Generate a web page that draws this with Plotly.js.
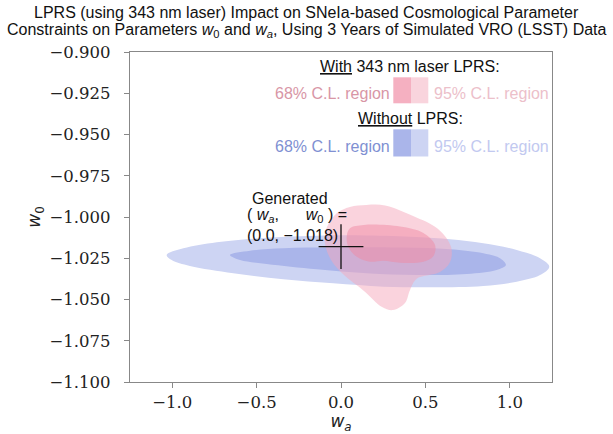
<!DOCTYPE html>
<html><head><meta charset="utf-8">
<script src="https://cdn.plot.ly/plotly-3.0.1.min.js"></script>
<style>html,body{margin:0;padding:0;background:#fff;}</style>
</head><body><div id="chart" style="width:613px;height:434px;"></div>
<script>
// Without LPRS, 95% C.L. contour (w_a, w_0)
const noLprs95_wa = [-1.033, -0.934, -0.736, -0.440, -0.144, 0.152, 0.448, 0.646, 0.843, 1.041, 1.179, 1.234, 1.179, 1.041, 0.843, 0.547, 0.251, -0.046, -0.342, -0.638, -0.895, -1.003];
const noLprs95_w0 = [-1.0230, -1.0190, -1.0153, -1.0125, -1.0113, -1.0112, -1.0121, -1.0135, -1.0159, -1.0200, -1.0250, -1.0301, -1.0352, -1.0392, -1.0418, -1.0426, -1.0422, -1.0402, -1.0378, -1.0341, -1.0297, -1.0261];
// Without LPRS, 68% C.L. contour
const noLprs68_wa = [-0.658, -0.539, -0.342, -0.046, 0.350, 0.646, 0.843, 0.942, 0.977, 0.922, 0.745, 0.448, 0.152, -0.144, -0.440, -0.598];
const noLprs68_w0 = [-1.0230, -1.0204, -1.0190, -1.0184, -1.0185, -1.0196, -1.0220, -1.0250, -1.0291, -1.0321, -1.0345, -1.0352, -1.0341, -1.0317, -1.0285, -1.0261];
// With 343 nm laser LPRS, 95% C.L. contour
const lprs95_wa = [0.053, 0.152, 0.261, 0.427, 0.575, 0.652, 0.646, 0.587, 0.450, 0.409, 0.379, 0.308, 0.243, 0.136, 0.018, -0.059, -0.095, -0.083, -0.024];
const lprs95_w0 = [-0.9939, -0.9927, -0.9930, -0.9994, -1.0073, -1.0182, -1.0273, -1.0333, -1.0373, -1.0442, -1.0521, -1.0564, -1.0545, -1.0448, -1.0352, -1.0261, -1.0158, -1.0061, -0.9976];
// With 343 nm laser LPRS, 68% C.L. contour
const lprs68_wa = [0.034, 0.053, 0.136, 0.350, 0.488, 0.557, 0.548, 0.488, 0.350, 0.251, 0.172, 0.093, 0.043];
const lprs68_w0 = [-1.0119, -1.0068, -1.0048, -1.0058, -1.0097, -1.0170, -1.0236, -1.0271, -1.0277, -1.0265, -1.0271, -1.0241, -1.0180];
// Generated (true) point
const generated_wa = [0.0];
const generated_w0 = [-1.018];
// Ticks
const xTickVals = [-1.0, -0.5, 0.0, 0.5, 1.0];
const yTickVals = [-0.900, -0.925, -0.950, -0.975, -1.000, -1.025, -1.050, -1.075, -1.100];
// Title lines
const titleLines = [
  'LPRS (using 343 nm laser) Impact on SNeIa-based Cosmological Parameter',
  'Constraints on Parameters <i>w</i><sub>0</sub> and <i>w<sub>a</sub></i>, Using 3 Years of Simulated VRO (LSST) Data'
];

function closed(a) { return a.concat([a[0]]); }
function region(xs, ys, color) {
  return {x: closed(xs), y: closed(ys), type: 'scatter', mode: 'lines', fill: 'toself',
    fillcolor: color, line: {width: 0, shape: 'spline', smoothing: 1, color: 'rgba(0,0,0,0)'},
    hoverinfo: 'skip', showlegend: false};
}

const C = {
  blue95: 'rgb(205,212,243)', blue68: 'rgb(170,181,234)',
  pink95: 'rgba(245,168,188,0.5)', pink68: 'rgba(240,138,164,0.5)',
  pink95solid: 'rgb(249,212,221)', pink68solid: 'rgb(245,176,193)'
};

const traces = [
  region(noLprs95_wa, noLprs95_w0, C.blue95),
  region(noLprs68_wa, noLprs68_w0, C.blue68),
  region(lprs95_wa, lprs95_w0, C.pink95),
  region(lprs68_wa, lprs68_w0, C.pink68),
  {x: generated_wa, y: generated_w0, type: 'scatter', mode: 'markers',
   marker: {symbol: 'cross-thin', size: 32, color: '#111', line: {width: 1.3, color: '#111'}},
   hoverinfo: 'skip', showlegend: false}
];

const sans = 'Liberation Sans, Arial, sans-serif';
function px2x(px) { return (px - 130) / 422; }
function py2y(py) { return (382 - py) / 330; }

const annotations = [
  {text: titleLines[0], x: px2x(306.5), y: py2y(12), xanchor: 'center'},
  {text: titleLines[1], x: px2x(306.5), y: py2y(31), xanchor: 'center'},
  {text: 'Generated', x: px2x(290), y: py2y(198.5), xanchor: 'center'},
  {text: '( <i>w<sub>a</sub></i>,\u00a0\u00a0\u00a0\u00a0\u00a0\u00a0<i>w</i><sub>0</sub> ) =', x: px2x(245), y: py2y(215.5), xanchor: 'left'},
  {text: '(0.0, \u22121.018)', x: px2x(245), y: py2y(235), xanchor: 'left'},
  {text: '<u>With</u> 343 nm laser LPRS:', x: px2x(410), y: py2y(66), xanchor: 'center', color: '#111'},
  {text: '68% C.L. region', x: px2x(391.5), y: py2y(93), xanchor: 'right', color: 'rgb(216,150,166)'},
  {text: '95% C.L. region', x: px2x(431.5), y: py2y(93), xanchor: 'left', color: 'rgb(236,192,202)'},
  {text: '<u>Without</u> LPRS:', x: px2x(410), y: py2y(118.5), xanchor: 'center', color: '#111'},
  {text: '68% C.L. region', x: px2x(391.5), y: py2y(146), xanchor: 'right', color: 'rgb(128,144,210)'},
  {text: '95% C.L. region', x: px2x(431.5), y: py2y(146), xanchor: 'left', color: 'rgb(194,201,240)'}
].map(a => ({xref: 'paper', yref: 'paper', x: a.x, y: a.y, xanchor: a.xanchor, yanchor: 'middle',
  text: a.text, showarrow: false, font: {family: sans, size: 16, color: a.color || '#111'}}));

function rect(x0, x1, y0, y1, color) {
  return {type: 'rect', xref: 'paper', yref: 'paper', x0: px2x(x0), x1: px2x(x1), y0: py2y(y1), y1: py2y(y0),
    fillcolor: color, line: {width: 0}, layer: 'above'};
}
const shapes = [
  rect(393.3, 411, 77.3, 103.3, C.pink68solid),
  rect(411, 428.3, 77.3, 103.3, C.pink95solid),
  rect(393.3, 411, 129.3, 156.5, C.blue68),
  rect(411, 428.3, 129.3, 156.5, C.blue95)
];

const tickFont = {family: 'DejaVu Serif, serif', size: 16.5, color: '#222'};
const layout = {
  width: 613, height: 434,
  margin: {l: 130, r: 61, t: 52, b: 52},
  paper_bgcolor: '#fff', plot_bgcolor: '#fff',
  xaxis: {range: [-1.25, 1.25], tickvals: xTickVals, tickformat: '.1f', ticks: 'outside', ticklen: 5,
    tickcolor: '#888', showline: true, mirror: true, linecolor: '#888', linewidth: 1.2, showgrid: false,
    zeroline: false, tickfont: tickFont, ticklabelstandoff: 0,
    title: {text: '<i>w<sub>a</sub></i>', font: {family: 'DejaVu Sans, sans-serif', size: 17, color: '#222'}, standoff: 3}},
  yaxis: {range: [-1.1, -0.9], tickvals: yTickVals, tickformat: '.3f', ticks: 'outside', ticklen: 5,
    tickcolor: '#888', showline: true, mirror: true, linecolor: '#888', linewidth: 1.2, showgrid: false,
    zeroline: false, tickfont: tickFont, ticklabelstandoff: 10,
    title: {text: '<i>w</i><sub>0</sub>', font: {family: 'DejaVu Sans, sans-serif', size: 17, color: '#222'}, standoff: 4}},
  annotations: annotations,
  shapes: shapes,
  showlegend: false
};

Plotly.newPlot('chart', traces, layout, {staticPlot: true, displayModeBar: false});
</script></body></html>
